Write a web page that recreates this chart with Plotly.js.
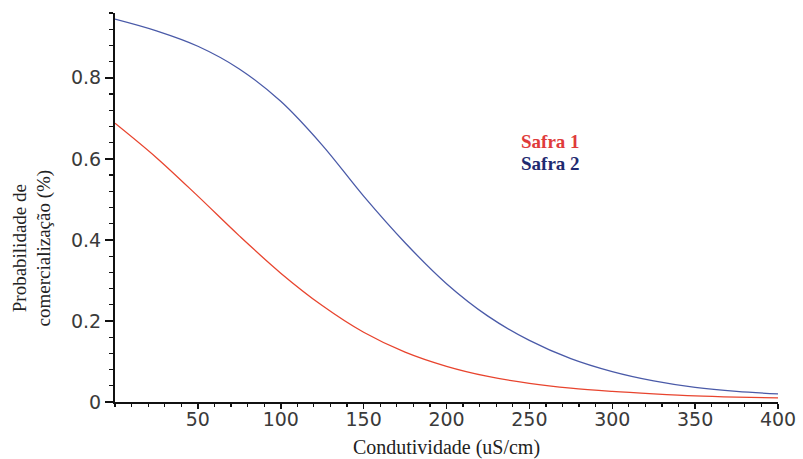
<!DOCTYPE html>
<html>
<head>
<meta charset="utf-8">
<script src="https://cdn.plot.ly/plotly-3.0.1.min.js"></script>
<style>html,body{margin:0;padding:0;background:#fff;}#chart{width:803px;height:459px;}</style>
</head>
<body>
<div id="chart"></div>
<script>
const condutividade = [0, 25, 50, 75, 100, 125, 150, 175, 200, 225, 250, 275, 300, 325, 350, 375, 400];
const safra1 = [0.688, 0.603, 0.508, 0.41, 0.318, 0.238, 0.172, 0.123, 0.088, 0.063, 0.046, 0.034, 0.026, 0.02, 0.015, 0.012, 0.01];
const safra2 = [0.945, 0.916, 0.878, 0.822, 0.742, 0.634, 0.508, 0.393, 0.292, 0.212, 0.152, 0.107, 0.075, 0.052, 0.036, 0.026, 0.02];
const seriesNames = ["Safra 1", "Safra 2"];
const xTicks = [50, 100, 150, 200, 250, 300, 350, 400];
const yTicks = [0, 0.2, 0.4, 0.6, 0.8];
const yTickText = ["0", "0.2", "0.4", "0.6", "0.8"];

const traces = [
  {x: condutividade, y: safra1, name: seriesNames[0], mode: "lines", line: {color: "#e8442e", width: 1.3, shape: "spline", smoothing: 1}},
  {x: condutividade, y: safra2, name: seriesNames[1], mode: "lines", line: {color: "#4a5aa8", width: 1.3, shape: "spline", smoothing: 1}}
];

const tickFont = {family: "DejaVu Sans", size: 19, color: "#3a3a3a"};
const layout = {
  width: 803, height: 459,
  margin: {l: 115, r: 25, t: 13, b: 57},
  paper_bgcolor: "#fff", plot_bgcolor: "#fff",
  showlegend: false,
  xaxis: {
    range: [0, 400], tickvals: xTicks, ticks: "outside", ticklen: 5, tickwidth: 1.5, tickcolor: "#111",
    showline: true, linecolor: "#111", linewidth: 2, showgrid: false, zeroline: false,
    tickfont: tickFont, ticklabelstandoff: -6,
    minor: {dtick: 10, ticks: "outside", ticklen: 3, tickcolor: "#111", tickwidth: 1.2, showgrid: false},
    title: {text: "Condutividade (uS/cm)", font: {family: "Liberation Serif", size: 20, color: "#222"}, standoff: 14}
  },
  yaxis: {
    range: [0, 0.96], tickvals: yTicks, ticktext: yTickText, ticks: "outside", ticklen: 8, tickwidth: 1.5, tickcolor: "#111",
    showline: true, linecolor: "#111", linewidth: 2, showgrid: false, zeroline: false,
    tickfont: tickFont,
    minor: {dtick: 0.04, ticks: "outside", ticklen: 4, tickcolor: "#111", tickwidth: 1.2, showgrid: false}
  },
  annotations: [
    {xref: "paper", yref: "paper", x: -0.125, y: 0.395, text: "Probabilidade de<br>comercialização (%)", textangle: -90,
     showarrow: false, font: {family: "Liberation Serif", size: 19, color: "#222"}, xanchor: "center", yanchor: "middle"},
    {xref: "x", yref: "y", x: 244, y: 0.643, text: "<b>" + seriesNames[0] + "</b>", showarrow: false, xanchor: "left",
     font: {family: "Liberation Serif", size: 19, color: "#e03b3b"}},
    {xref: "x", yref: "y", x: 244, y: 0.589, text: "<b>" + seriesNames[1] + "</b>", showarrow: false, xanchor: "left",
     font: {family: "Liberation Serif", size: 19, color: "#1f2a70"}}
  ]
};
Plotly.newPlot("chart", traces, layout, {displayModeBar: false, staticPlot: true});
</script>
</body>
</html>
